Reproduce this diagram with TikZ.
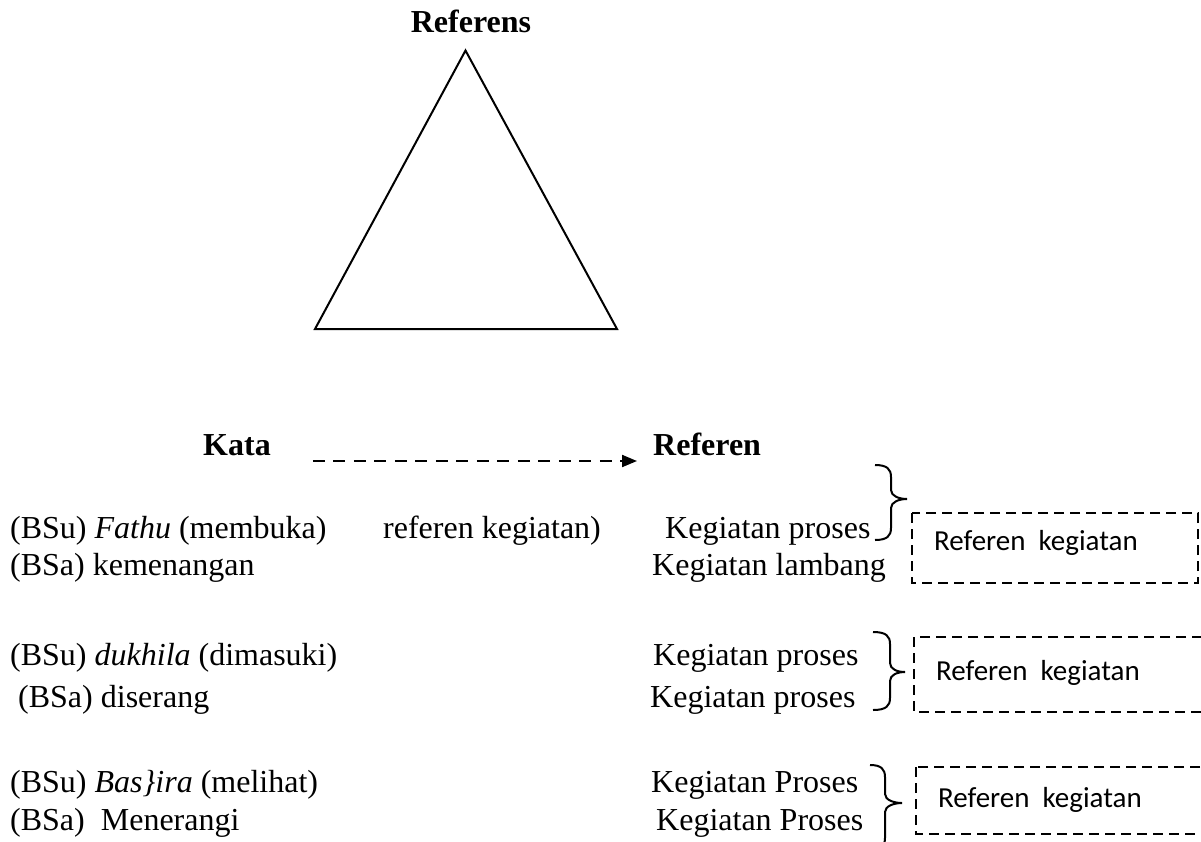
\documentclass[tikz,border=0pt]{standalone}
\usepackage{fontspec}
\setmainfont{Liberation Serif}
\newfontfamily\calib{Carlito}
\usetikzlibrary{arrows.meta}
\newcommand\myBrace[6]{%
\draw[brc] (#1,#4) .. controls ({#2-4},#4) and (#2,{#4+4}) .. (#2,{#4+12}) -- (#2,{#5-9}) .. controls (#2,{#5-3}) and ({#3-8},#5) .. (#3,#5) .. controls ({#3-8},#5) and (#2,{#5+3}) .. (#2,{#5+9}) -- (#2,{#6-12}) .. controls (#2,{#6-4}) and ({#2-4},#6) .. (#1,#6);}
\begin{document}
\begin{tikzpicture}[x=1pt,y=-1pt,
  txt/.style={anchor=base west,inner sep=0pt,font=\fontsize{32}{38}\selectfont},
  btxt/.style={anchor=base west,inner sep=0pt,font=\fontsize{32}{38}\selectfont\bfseries},
  boxtxt/.style={anchor=base west,inner sep=0pt,font=\calib\fontsize{29}{34}\selectfont},
  dbox/.style={draw,line width=2.8pt,dash pattern=on 10pt off 6pt},
  brc/.style={draw,line width=2pt},
  arr/.style={line width=2pt,dash pattern=on 12pt off 8.5pt,-{Triangle[length=15pt,width=12pt]}}
]
\useasboundingbox (0,0) rectangle (1201,841);
\clip (0,0) rectangle (1201,841);
% triangle
\node[btxt,anchor=base] (referens) at (471,32) {Referens};
\coordinate (tA) at (465.5,50.5);
\coordinate (tL) at (315,329);
\coordinate (tR) at (617,329);
\draw[line width=2pt] (tA) -- (tL) -- (tR) -- cycle;
% headers
\node[btxt] (kata) at (203,455) {Kata};
\node[btxt] (referen) at (653,455) {Referen};
\draw[arr] ([xshift=42,yshift=-6]kata.base east) -- ([xshift=-16,yshift=-6]referen.base west);
% left column
\node[txt] (l1) at (10,538) {(BSu) \textit{Fathu} (membuka)};
\node[txt] (m1) at (383,538) {referen kegiatan)};
\node[txt] (l2) at (10,575) {(BSa) kemenangan};
\node[txt] (l3) at (10,665) {(BSu) \textit{dukhila} (dimasuki)};
\node[txt] (l4) at (18,707) {(BSa) diserang};
\node[txt] (l5) at (10,792) {(BSu) \textit{Bas\}ira} (melihat)};
\node[txt] (l6) at (10,830) {(BSa)\ \ Menerangi};
% right column
\node[txt] (r1) at (665,538) {Kegiatan proses};
\node[txt] (r2) at (652,575) {Kegiatan lambang};
\node[txt] (r3) at (653,665) {Kegiatan proses};
\node[txt] (r4) at (650,707) {Kegiatan proses};
\node[txt] (r5) at (651,792) {Kegiatan Proses};
\node[txt] (r6) at (656,830) {Kegiatan Proses};
% braces
\myBrace{875}{891}{907}{465}{499}{540}
\myBrace{873}{890}{905}{632}{672}{710}
\myBrace{870}{885}{902}{765}{803}{850}
% boxes
\draw[dbox] (912,513) rectangle (1198,583);
\draw[dbox] (914,637) rectangle (1215,712);
\draw[dbox] (916,767) rectangle (1215,834);
\node[boxtxt] (k1) at (934,550) {Referen\ \ kegiatan};
\node[boxtxt] (k2) at (936,680) {Referen\ \ kegiatan};
\node[boxtxt] (k3) at (938,807) {Referen\ \ kegiatan};
\end{tikzpicture}
\end{document}
